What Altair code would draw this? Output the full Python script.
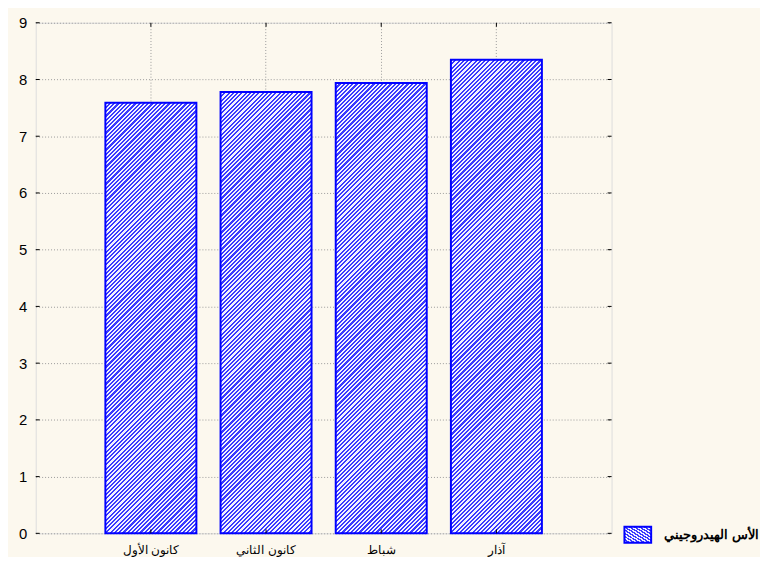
import altair as alt
import pandas as pd

months = ["كانون الأول", "كانون الثاني", "شباط", "آذار"]
ph = [7.59, 7.78, 7.94, 8.35]
series_name = "الأس الهيدروجيني"
y_ticks = [0, 1, 2, 3, 4, 5, 6, 7, 8, 9]

df = pd.DataFrame({"month": months, "ph": ph, "series": [series_name] * len(months)})
tick_df = pd.DataFrame({"v": y_ticks})
cat_df = pd.DataFrame({"month": months})

W, H = 582, 516
YMAX = 9
P_IN, P_OUT = 0.21, 0.605
BAR_W = W / (len(months) - P_IN + 2 * P_OUT) * (1 - P_IN)
BLUE = "#3a3aff"
LIGHT = "#f2f2ff"
FONT = "Liberation Sans"


def hatch(bar_h, bar_w=BAR_W, period=4.3, frac=0.5):
    L = bar_w + bar_h
    s = L / (bar_w * bar_w + bar_h * bar_h)
    stops = []
    k = 0
    while k * period < L:
        t0 = k * period / L
        t1 = min((k * period + period * frac) / L, 1)
        t2 = min((k + 1) * period / L, 1)
        stops += [
            alt.GradientStop(offset=t0, color=BLUE),
            alt.GradientStop(offset=t1, color=BLUE),
            alt.GradientStop(offset=t1, color=LIGHT),
            alt.GradientStop(offset=t2, color=LIGHT),
        ]
        k += 1
    return alt.Gradient(gradient="linear", stops=stops, x1=0, y1=0,
                        x2=bar_w * s, y2=bar_h * s)


xscale = alt.Scale(domain=months, paddingInner=P_IN, paddingOuter=P_OUT)
yscale = alt.Scale(domain=[0, YMAX], nice=False)

x_enc = alt.X("month:N", sort=months, scale=xscale,
              axis=alt.Axis(title=None, labelAngle=0, labelFontSize=12.5, labelColor="black",
                            labelFont=FONT, domain=False, ticks=False, grid=True, gridDash=[1, 2],
                            gridColor="#9a9a9a", labelPadding=10, bandPosition=0.5))
y_enc = alt.Y("ph:Q", scale=yscale,
              axis=alt.Axis(title=None, values=y_ticks, format="d", labelFontSize=15,
                            labelColor="black", labelFont=FONT,
                            domain=False, ticks=False, grid=True, gridDash=[1, 2],
                            gridColor="#9a9a9a", labelPadding=9))

legend = alt.Legend(title=None, orient="none", legendX=594, legendY=503,
                    symbolType="M-1,-0.6H1V0.6H-1Z", symbolSize=729,
                    symbolFillColor="#9494ff", symbolStrokeColor="#0000ff",
                    symbolStrokeWidth=2, labelFontSize=13, labelFontWeight="bold",
                    labelFont=FONT, labelColor="black", labelOffset=12, padding=0)

layers = []
for m, v in zip(months, ph):
    bh = v * H / YMAX
    layers.append(
        alt.Chart(df).transform_filter(alt.datum.month == m)
        .mark_bar(fill=hatch(bh), strokeWidth=2)
        .encode(x=x_enc, y=y_enc,
                stroke=alt.Stroke("series:N", scale=alt.Scale(range=["#0000ff"]), legend=legend))
    )

left_ticks = alt.Chart(tick_df).mark_rule(color="black").encode(
    y=alt.Y("v:Q", scale=yscale), x=alt.value(0), x2=alt.value(4))
right_ticks = alt.Chart(tick_df).mark_rule(color="black").encode(
    y=alt.Y("v:Q", scale=yscale), x=alt.value(W - 4), x2=alt.value(W))
top_ticks = alt.Chart(cat_df).mark_rule(color="black").encode(
    x=alt.X("month:N", sort=months, scale=xscale), y=alt.value(0), y2=alt.value(4))
bottom_ticks = alt.Chart(cat_df).mark_rule(color="black").encode(
    x=alt.X("month:N", sort=months, scale=xscale), y=alt.value(H - 4), y2=alt.value(H))

chart = alt.layer(*layers, left_ticks, right_ticks, top_ticks, bottom_ticks).properties(
    width=W, height=H, background="#fcf8ee",
    padding={"left": 28, "top": 12, "right": 150, "bottom": 21},
    autosize=alt.AutoSizeParams(type="none"),
).configure_view(stroke="black", strokeWidth=1, fill="white").configure(font=FONT)

chart.save("out.html", embed_options={"renderer": "svg", "actions": False})
